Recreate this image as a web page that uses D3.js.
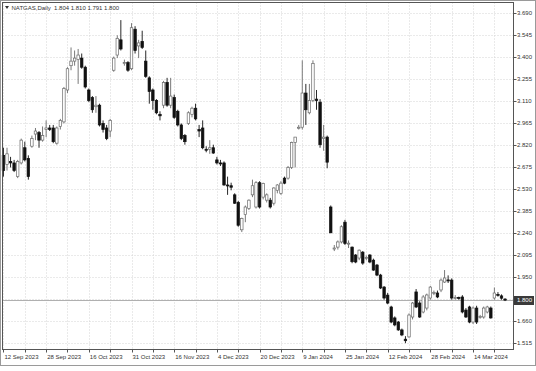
<!DOCTYPE html>
<html>
<head>
<meta charset="utf-8">
<script src="https://cdn.jsdelivr.net/npm/d3@7"></script>
<style>
  body { margin: 0; background: #fff; }
  svg { display: block; font-family: "Liberation Sans", Arial, sans-serif; }
</style>
</head>
<body>
<div id="container"></div>
<script>

  // daily candles: [open, high, low, close]
  const ohlc = [
    [2.75,2.80,2.61,2.65],[2.69,2.80,2.65,2.76],[2.71,2.74,2.67,2.70],[2.70,2.72,2.64,2.65],
    [2.61,2.72,2.60,2.71],[2.70,2.86,2.69,2.85],[2.80,2.84,2.71,2.72],[2.73,2.75,2.59,2.61],
    [2.81,2.88,2.80,2.86],[2.89,2.93,2.85,2.91],[2.90,2.91,2.80,2.85],[2.85,2.94,2.84,2.88],
    [2.92,2.98,2.87,2.93],[2.93,2.95,2.91,2.92],[2.93,2.95,2.83,2.84],[2.83,2.94,2.82,2.93],
    [2.94,2.99,2.92,2.98],[2.97,3.20,2.96,3.19],[3.18,3.33,3.16,3.32],[3.34,3.46,3.31,3.37],
    [3.37,3.44,3.34,3.39],[3.38,3.45,3.22,3.41],[3.39,3.42,3.32,3.33],[3.33,3.34,3.19,3.20],
    [3.18,3.19,3.10,3.11],[3.13,3.14,3.03,3.05],[3.07,3.14,3.03,3.08],[3.08,3.09,2.94,2.95],
    [2.96,2.98,2.90,2.92],[2.93,2.95,2.85,2.86],[2.91,2.99,2.87,2.98],[3.31,3.40,3.30,3.39],
    [3.41,3.54,3.39,3.52],[3.51,3.64,3.44,3.45],[3.36,3.38,3.34,3.36],[3.36,3.37,3.30,3.31],
    [3.32,3.62,3.31,3.59],[3.58,3.60,3.42,3.44],[3.47,3.51,3.39,3.49],[3.50,3.57,3.45,3.46],
    [3.37,3.44,3.26,3.27],[3.26,3.27,3.09,3.17],[3.18,3.19,3.05,3.11],[3.11,3.12,3.02,3.03],
    [3.02,3.04,2.98,3.01],[3.08,3.24,3.06,3.23],[3.23,3.26,3.07,3.08],[3.08,3.26,3.06,3.14],
    [3.13,3.15,2.99,3.00],[3.04,3.05,2.94,2.95],[2.95,2.96,2.85,2.86],[2.88,2.89,2.82,2.84],
    [2.96,3.04,2.95,3.03],[3.02,3.07,3.00,3.06],[3.06,3.09,2.98,2.99],[2.92,2.95,2.87,2.91],
    [2.93,2.98,2.79,2.80],[2.79,2.81,2.77,2.785],[2.79,2.85,2.76,2.80],[2.80,2.82,2.76,2.765],
    [2.72,2.74,2.69,2.70],[2.70,2.72,2.68,2.695],[2.70,2.71,2.55,2.555],[2.555,2.61,2.49,2.55],
    [2.55,2.57,2.52,2.54],[2.49,2.50,2.43,2.435],[2.44,2.45,2.28,2.29],[2.26,2.34,2.245,2.335],
    [2.36,2.42,2.31,2.41],[2.40,2.46,2.39,2.455],[2.49,2.59,2.475,2.55],[2.41,2.58,2.40,2.57],
    [2.57,2.58,2.40,2.41],[2.475,2.57,2.46,2.565],[2.455,2.50,2.44,2.49],[2.455,2.47,2.40,2.41],
    [2.435,2.54,2.42,2.535],[2.52,2.56,2.50,2.555],[2.50,2.58,2.49,2.567],[2.60,2.61,2.56,2.567],
    [2.60,2.68,2.59,2.67],[2.67,2.84,2.66,2.835],[2.835,2.87,2.67,2.87],[2.93,2.95,2.92,2.935],
    [2.935,3.375,2.92,3.16],[3.16,3.22,2.95,3.05],[3.03,3.22,3.02,3.11],[3.11,3.375,3.10,3.355],
    [3.12,3.18,3.05,3.11],[3.10,3.12,2.80,2.82],[2.86,2.95,2.78,2.87],[2.87,2.88,2.665,2.705],
    [2.41,2.42,2.24,2.24],[2.14,2.16,2.12,2.14],[2.146,2.19,2.13,2.18],[2.18,2.29,2.17,2.28],
    [2.31,2.325,2.16,2.17],[2.17,2.19,2.14,2.172],[2.146,2.15,2.04,2.05],[2.094,2.10,2.04,2.048],
    [2.074,2.13,2.06,2.126],[2.113,2.12,2.03,2.041],[2.074,2.09,2.06,2.078],[2.094,2.10,2.04,2.048],
    [2.06,2.07,1.99,1.995],[2.028,2.035,1.955,1.962],[1.962,1.97,1.87,1.877],[1.883,1.89,1.80,1.811],
    [1.83,1.845,1.77,1.778],[1.752,1.76,1.645,1.653],[1.68,1.69,1.625,1.634],[1.653,1.66,1.595,1.601],
    [1.601,1.61,1.56,1.568],[1.54,1.56,1.514,1.53],[1.555,1.71,1.55,1.699],[1.686,1.785,1.67,1.778],
    [1.851,1.87,1.745,1.752],[1.778,1.79,1.68,1.686],[1.719,1.83,1.71,1.818],[1.745,1.84,1.73,1.831],
    [1.811,1.89,1.80,1.883],[1.844,1.86,1.83,1.848],[1.844,1.86,1.81,1.818],[1.864,1.94,1.85,1.929],
    [1.916,1.995,1.91,1.943],[1.93,1.96,1.91,1.925],[1.929,1.94,1.80,1.811],[1.811,1.83,1.80,1.815],
    [1.815,1.82,1.80,1.808],[1.818,1.83,1.71,1.719],[1.732,1.745,1.68,1.686],[1.752,1.76,1.645,1.653],
    [1.653,1.755,1.64,1.745],[1.745,1.76,1.64,1.653],[1.686,1.70,1.675,1.69],[1.686,1.755,1.675,1.745],
    [1.719,1.76,1.71,1.752],[1.745,1.755,1.675,1.68],[1.811,1.88,1.80,1.844],[1.835,1.85,1.82,1.831],
    [1.825,1.835,1.80,1.81],[1.804,1.810,1.791,1.800]
  ];

  // date labels every 12 bars
  const dateLabels = ["12 Sep 2023", "28 Sep 2023", "16 Oct 2023", "31 Oct 2023", "16 Nov 2023",
    "4 Dec 2023", "20 Dec 2023", "9 Jan 2024", "25 Jan 2024", "12 Feb 2024", "28 Feb 2024", "14 Mar 2024"];

  const priceTicks = [3.690, 3.545, 3.400, 3.255, 3.110, 2.965, 2.820, 2.675, 2.530,
    2.385, 2.240, 2.095, 1.950, 1.805, 1.660, 1.515];

  const lastPrice = 1.800;
  const title = "NATGAS,Daily  1.804 1.810 1.791 1.800";

  const width = 536, height = 371;
  const plot = { left: 2.5, top: 2.5, right: 513.5, bottom: 349.5 };
  const step = 3.55;

  const svg = d3.create("svg")
      .attr("width", width)
      .attr("height", height);

  // scales
  const x = d3.scaleBand()
      .domain(d3.range(ohlc.length))
      .range([2.2, 2.2 + ohlc.length * step])
      .paddingInner(0.3);

  const y = d3.scaleLinear()
      .domain([1.515, 3.690])
      .range([343, 12.5]);

  const cx = i => x(i) + x.bandwidth() / 2;

  // outer frame
  svg.append("rect")
      .attr("x", 0.5).attr("y", 0.5)
      .attr("width", width - 1).attr("height", 365)
      .attr("fill", "#fff")
      .attr("stroke", "#9a9a9a");

  // grid
  svg.append("g")
    .selectAll("line")
    .data(priceTicks)
    .join("line")
      .attr("x1", plot.left).attr("x2", plot.right)
      .attr("y1", d => Math.round(y(d)) + 0.5)
      .attr("y2", d => Math.round(y(d)) + 0.5)
      .attr("stroke", "#d4d4d4")
      .attr("stroke-dasharray", "1,2");

  const gridIdx = d3.range(0, ohlc.length, 6);
  svg.append("g")
    .selectAll("line")
    .data(gridIdx)
    .join("line")
      .attr("x1", d => Math.round(cx(d)) + 0.5)
      .attr("x2", d => Math.round(cx(d)) + 0.5)
      .attr("y1", plot.top).attr("y2", plot.bottom)
      .attr("stroke", "#d4d4d4")
      .attr("stroke-dasharray", "1,2");

  // current price line
  svg.append("line")
      .attr("x1", plot.left).attr("x2", plot.right)
      .attr("y1", Math.round(y(lastPrice)) + 0.5)
      .attr("y2", Math.round(y(lastPrice)) + 0.5)
      .attr("stroke", "#b0b0b0");

  // candles
  const candles = svg.append("g")
    .selectAll("g")
    .data(ohlc)
    .join("g");

  candles.append("line")
      .attr("x1", (d, i) => cx(i)).attr("x2", (d, i) => cx(i))
      .attr("y1", d => y(d[1])).attr("y2", d => y(d[2]))
      .attr("stroke", d => d[3] >= d[0] ? "#6a6a6a" : "#111")
      .attr("stroke-width", 0.9);

  candles.append("rect")
      .attr("x", (d, i) => x(i))
      .attr("width", x.bandwidth())
      .attr("y", d => y(Math.max(d[0], d[3])))
      .attr("height", d => Math.max(1, Math.abs(y(d[0]) - y(d[3]))))
      .attr("fill", d => d[3] >= d[0] ? "#fff" : "#111")
      .attr("stroke", d => d[3] >= d[0] ? "#6a6a6a" : "#111")
      .attr("stroke-width", 0.7);

  // plot border
  svg.append("rect")
      .attr("x", plot.left).attr("y", plot.top)
      .attr("width", plot.right - plot.left)
      .attr("height", plot.bottom - plot.top)
      .attr("fill", "none")
      .attr("stroke", "#555");

  // right axis
  const yAxis = svg.append("g");
  yAxis.selectAll("line")
    .data(priceTicks)
    .join("line")
      .attr("x1", plot.right).attr("x2", plot.right + 3)
      .attr("y1", d => Math.round(y(d)) + 0.5)
      .attr("y2", d => Math.round(y(d)) + 0.5)
      .attr("stroke", "#555");
  yAxis.selectAll("text")
    .data(priceTicks.filter(d => Math.abs(y(d) - y(lastPrice)) > 6))
    .join("text")
      .attr("x", 517)
      .attr("y", d => y(d) + 2.2)
      .attr("font-size", "6px")
      .attr("fill", "#333")
      .text(d => d3.format(".3f")(d));

  // last price box
  svg.append("rect")
      .attr("x", 514).attr("y", Math.round(y(lastPrice)) - 4)
      .attr("width", 20).attr("height", 9)
      .attr("fill", "#3a3a3a");
  svg.append("text")
      .attr("x", 517)
      .attr("y", y(lastPrice) + 2.5)
      .attr("font-size", "6px")
      .attr("fill", "#fff")
      .text(d3.format(".3f")(lastPrice));

  // bottom axis
  const xAxis = svg.append("g");
  xAxis.selectAll("line")
    .data(gridIdx)
    .join("line")
      .attr("x1", d => Math.round(cx(d)) + 0.5)
      .attr("x2", d => Math.round(cx(d)) + 0.5)
      .attr("y1", plot.bottom).attr("y2", plot.bottom + 3)
      .attr("stroke", "#555");
  xAxis.selectAll("text")
    .data(dateLabels)
    .join("text")
      .attr("x", (d, i) => cx(i * 12) + 1)
      .attr("y", 359)
      .attr("font-size", "6px")
      .attr("fill", "#333")
      .text(d => d);

  // title
  svg.append("path")
      .attr("d", "M5,6 L9,6 L7,9 Z")
      .attr("fill", "#333");
  svg.append("text")
      .attr("x", 11.5)
      .attr("y", 9.5)
      .attr("font-size", "6px")
      .attr("fill", "#333")
      .attr("xml:space", "preserve")
      .text(title);

  container.append(svg.node());

</script>
</body>
</html>
